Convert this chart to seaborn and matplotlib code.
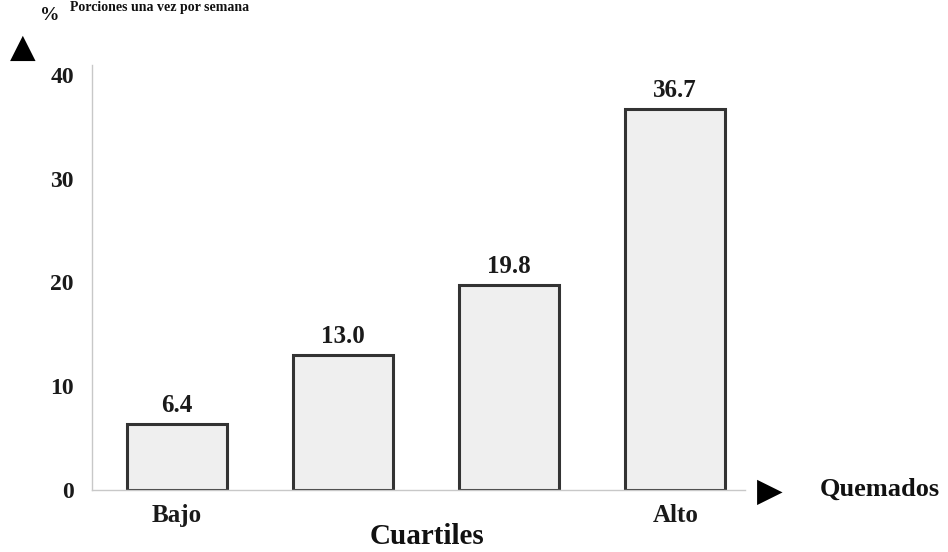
import matplotlib
matplotlib.use("Agg")
import matplotlib.pyplot as plt
import seaborn as sns
import pandas as pd

# Percentages by quartile of "Quemados"
cuartiles = ["Q1", "Q2", "Q3", "Q4"]
porcentajes = [6.4, 13.0, 19.8, 36.7]
etiquetas_x = ["Bajo", "", "", "Alto"]
ticks_y = [0, 10, 20, 30, 40]

sns.set_theme(style="white")
plt.rcParams["font.family"] = ["Liberation Serif", "DejaVu Serif"]
plt.rcParams["font.weight"] = "bold"

df = pd.DataFrame({"cuartil": cuartiles, "pct": porcentajes})

W, H = 948, 552
fig = plt.figure(figsize=(W / 100, H / 100), dpi=100)
x0, x1, y0, y1 = 92, 745, 490, 65
ax = fig.add_axes([x0 / W, 1 - y0 / H, (x1 - x0) / W, (y0 - y1) / H])

sns.barplot(data=df, x="cuartil", y="pct", ax=ax, width=0.6,
            color="#efefef", edgecolor="#333333", linewidth=2.2,
            saturation=1)

ax.set_xlim(-0.51, 3.42)
ax.set_ylim(0, 40.96)
ax.set_yticks(ticks_y)
ax.set_yticklabels([str(t) for t in ticks_y], fontsize=17, fontweight="bold",
                   color="#1a1a1a")
ax.set_xticks(range(len(cuartiles)))
ax.set_xticklabels(etiquetas_x, fontsize=18, fontweight="bold",
                   color="#1a1a1a")
ax.tick_params(axis="x", length=0, pad=10)
ax.tick_params(axis="y", length=0, pad=13)
ax.set_xlabel("")
ax.set_ylabel("")

for s in ["top", "right"]:
    ax.spines[s].set_visible(False)
for s in ["left", "bottom"]:
    ax.spines[s].set_color("#c8c8c8")
    ax.spines[s].set_linewidth(1.0)

for i, v in enumerate(porcentajes):
    ax.annotate(f"{v:.1f}", (i, v), xytext=(0, 5), textcoords="offset points",
                ha="center", va="bottom", fontsize=18, fontweight="bold",
                color="#1a1a1a")

# Axis arrows and labels
fig.text(770 / W, 1 - 491 / H, "\u25B6", ha="center", va="center",
         fontsize=24, color="black", family="DejaVu Sans")
fig.text(23 / W, 1 - 47 / H, "\u25B2", ha="center", va="center",
         fontsize=24, color="black", family="DejaVu Sans")
fig.text(880 / W, 1 - 489 / H, "Quemados", ha="center", va="center",
         fontsize=19, fontweight="bold", color="#111111")
fig.text(427 / W, 1 - 536 / H, "Cuartiles", ha="center", va="center",
         fontsize=21, fontweight="bold", color="#111111")
fig.text(50 / W, 1 - 16 / H, "%", ha="center", va="center",
         fontsize=14, fontweight="bold", color="#111111")
fig.text(70 / W, 1 - 1 / H, "Porciones una vez por semana", ha="left", va="top",
         fontsize=10, fontweight="bold", color="#111111")

fig.savefig("out.png", dpi=100)
